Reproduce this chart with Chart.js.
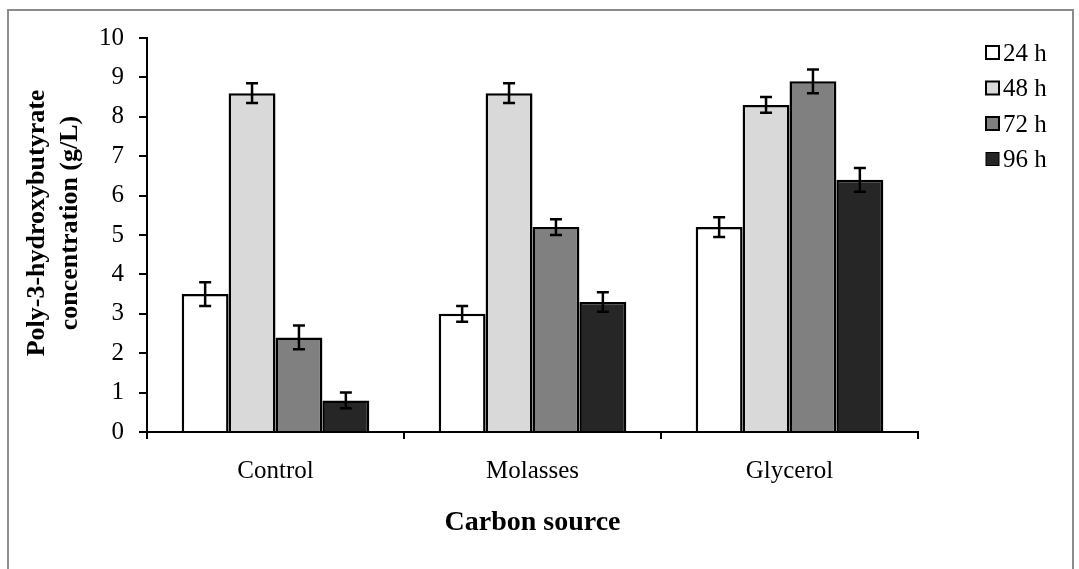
<!DOCTYPE html>
<html>
<head>
<meta charset="utf-8">
<script src="https://cdn.jsdelivr.net/npm/chart.js@4/dist/chart.umd.min.js"></script>
<style>
  html, body { margin: 0; padding: 0; background: #fff; }
  #wrap { width: 1079px; height: 569px; }
</style>
</head>
<body>
<div id="wrap"><canvas id="chart" width="1079" height="569"></canvas></div>
<script>
// data
const categories = ['Control', 'Molasses', 'Glycerol'];
const seriesLabels = ['24 h', '48 h', '72 h', '96 h'];
const values24 = [3.5, 3.0, 5.2];
const values48 = [8.6, 8.6, 8.3];
const values72 = [2.4, 5.2, 8.9];
const values96 = [0.8, 3.3, 6.4];
const err24 = [0.3, 0.2, 0.25];
const err48 = [0.25, 0.25, 0.2];
const err72 = [0.3, 0.2, 0.3];
const err96 = [0.2, 0.25, 0.3];
const yTicks = [0, 1, 2, 3, 4, 5, 6, 7, 8, 9, 10];
const yTitle = ['Poly-3-hydroxybutyrate', 'concentration (g/L)'];

const fills = ['#ffffff', '#d9d9d9', '#808080', '#262626'];
const FONT = "'Liberation Serif', 'Times New Roman', serif";

//white background + grey frame round the whole chart
const framePlugin = {
  id: 'frame',
  beforeDraw(chart) {
    const ctx = chart.ctx;
    ctx.save();
    ctx.fillStyle = '#fff';
    ctx.fillRect(0, 0, chart.width, chart.height);
    ctx.strokeStyle = '#8c8c8c';
    ctx.lineWidth = 2;
    ctx.strokeRect(8, 10, 1065, 620);
    ctx.restore();
  }
};

//error bars drawn from each bar element
const errorBarPlugin = {
  id: 'errorBars',
  afterDatasetsDraw(chart) {
    const ctx = chart.ctx;
    const y = chart.scales.y;
    ctx.save();
    ctx.strokeStyle = '#000';
    ctx.lineWidth = 2.5;
    chart.data.datasets.forEach((ds, i) => {
      const meta = chart.getDatasetMeta(i);
      meta.data.forEach((bar, j) => {
        const v = ds.data[j], e = ds.errors[j];
        const top = y.getPixelForValue(v + e);
        const bot = y.getPixelForValue(v - e);
        ctx.beginPath();
        ctx.moveTo(bar.x, top); ctx.lineTo(bar.x, bot);
        ctx.moveTo(bar.x - 6, top); ctx.lineTo(bar.x + 6, top);
        ctx.moveTo(bar.x - 6, bot); ctx.lineTo(bar.x + 6, bot);
        ctx.stroke();
      });
    });
    ctx.restore();
  }
};

//legend in the top right corner + rotated y title
const legendPlugin = {
  id: 'sideLegend',
  afterDraw(chart) {
    const ctx = chart.ctx;
    ctx.save();
    ctx.font = '25px ' + FONT;
    ctx.textBaseline = 'middle';
    ctx.textAlign = 'left';
    chart.data.datasets.forEach((ds, i) => {
      const cy = 53 + i * 35.5;
      ctx.fillStyle = ds.backgroundColor;
      ctx.fillRect(986, cy - 7, 13, 13);
      ctx.strokeStyle = '#000';
      ctx.lineWidth = i === 3 ? 1 : 2;
      ctx.strokeRect(986, cy - 7, 13, 13);
      ctx.fillStyle = '#000';
      ctx.fillText(ds.label, 1003, cy + 1);
    });
    ctx.restore();

    ctx.save();
    ctx.font = 'bold 26px ' + FONT;
    ctx.fillStyle = '#000';
    ctx.textAlign = 'center';
    ctx.textBaseline = 'middle';
    ctx.translate(37, 223);
    ctx.rotate(-Math.PI / 2);
    yTitle.forEach((line, k) => ctx.fillText(line, 0, k * 33));
    ctx.restore();
  }
};

const makeSet = (i, data, errors) => ({
  label: seriesLabels[i],
  data: data,
  errors: errors,
  backgroundColor: fills[i],
  borderColor: '#000',
  borderWidth: 2.5,
  barPercentage: 1,
  categoryPercentage: 0.73
});

new Chart(document.getElementById('chart'), {
  type: 'bar',
  data: {
    labels: categories,
    datasets: [
      makeSet(0, values24, err24),
      makeSet(1, values48, err48),
      makeSet(2, values72, err72),
      makeSet(3, values96, err96)
    ]
  },
  options: {
    responsive: false,
    animation: false,
    devicePixelRatio: 1,
    layout: { padding: { top: 38, right: 161, bottom: 0, left: 0 } },
    plugins: { legend: { display: false }, tooltip: { enabled: false } },
    scales: {
      x: {
        afterFit: (s) => { s.height = 137; },
        grid: { offset: true, drawOnChartArea: false, drawTicks: true, tickLength: 7, color: '#000', lineWidth: 2 },
        border: { display: true, color: '#000', width: 2 },
        ticks: { color: '#000', font: { family: FONT, size: 25 }, padding: 17 },
        title: {
          display: true,
          text: 'Carbon source',
          color: '#000',
          font: { family: FONT, size: 28, weight: 'bold' },
          padding: { top: 0, bottom: 29 }
        }
      },
      y: {
        min: 0,
        max: 10,
        afterFit: (s) => { s.width = 147; },
        afterBuildTicks: (s) => { s.ticks = yTicks.map(v => ({ value: v })); },
        grid: { drawOnChartArea: false, drawTicks: true, tickLength: 8, color: '#000', lineWidth: 2 },
        border: { display: true, color: '#000', width: 2 },
        ticks: { color: '#000', font: { family: FONT, size: 25 }, padding: 15 }
      }
    }
  },
  plugins: [framePlugin, errorBarPlugin, legendPlugin]
});
</script>
</body>
</html>
